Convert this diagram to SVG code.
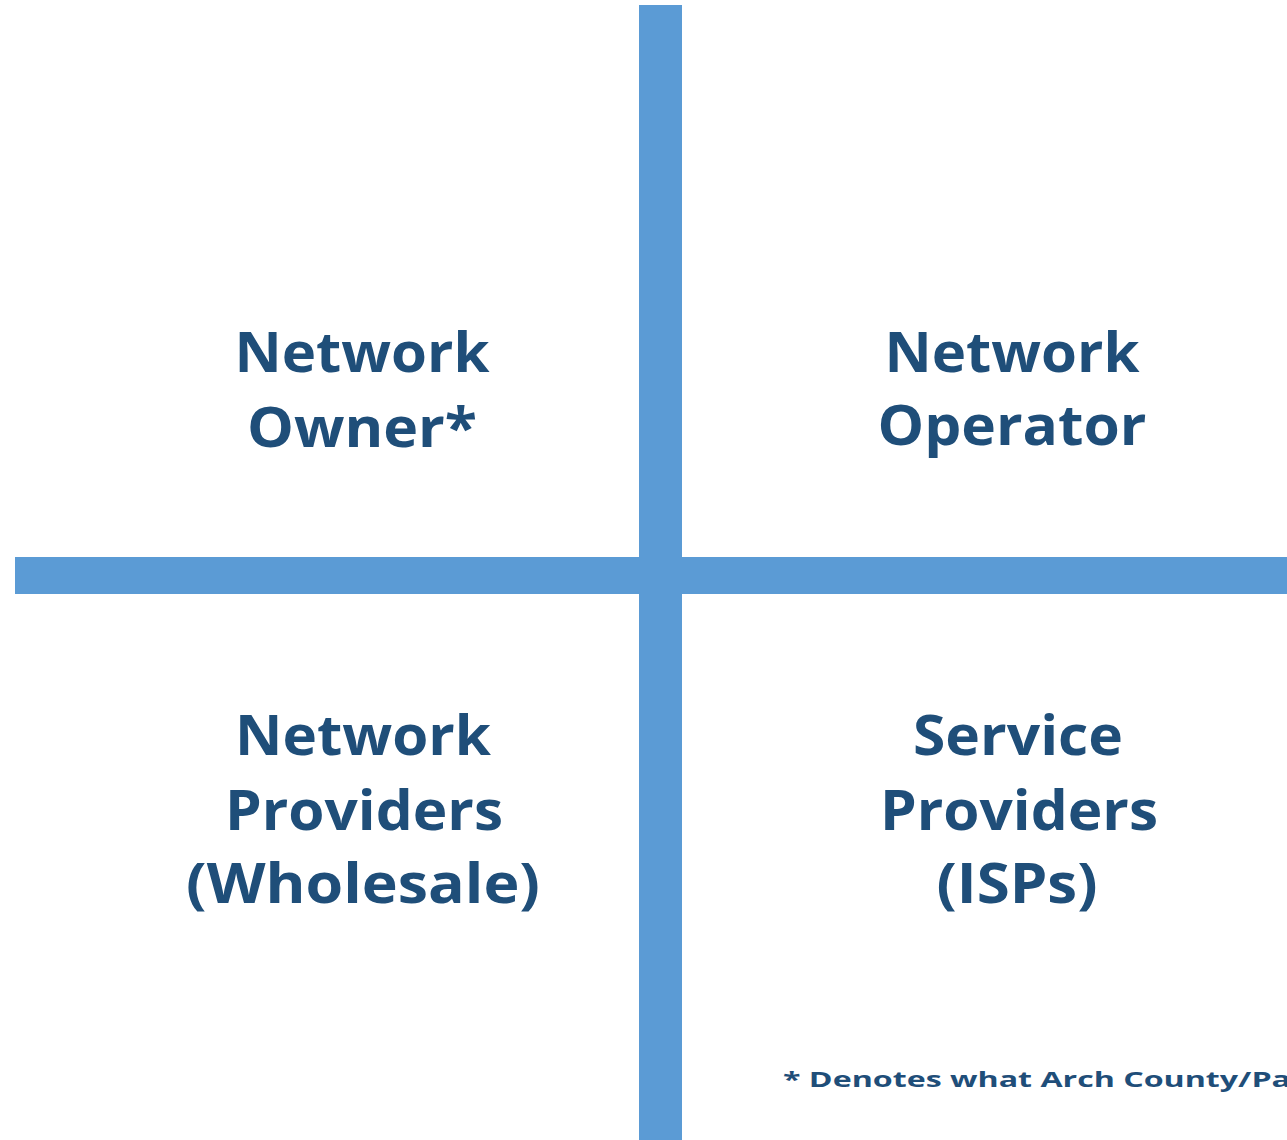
<svg xmlns="http://www.w3.org/2000/svg" width="1287" height="1140" viewBox="0 0 1287 1140">
<style>
.bar{fill:#5B9BD5}
.lbl{font-family:"Open Sans","Liberation Sans",sans-serif;font-weight:700;font-size:56px;fill:#1F4E79;text-anchor:middle}
.note{font-family:"Open Sans","Liberation Sans",sans-serif;font-weight:700;font-size:22px;fill:#1F4E79}
</style>
<rect width="1287" height="1140" fill="#FFFFFF"/>
<g id="connectors">
<rect class="bar" x="639" y="5" width="43" height="1135"/>
<rect class="bar" x="15" y="557" width="1272" height="37"/>
</g>
<g id="owner"><text class="lbl" x="362" y="372" textLength="255" lengthAdjust="spacingAndGlyphs">Network</text><text class="lbl" x="362" y="447" textLength="230" lengthAdjust="spacingAndGlyphs">Owner*</text></g>
<g id="operator"><text class="lbl" x="1012" y="372" textLength="255" lengthAdjust="spacingAndGlyphs">Network</text><text class="lbl" x="1012" y="445" textLength="269" lengthAdjust="spacingAndGlyphs">Operator</text></g>
<g id="wholesale"><text class="lbl" x="363" y="755" textLength="256" lengthAdjust="spacingAndGlyphs">Network</text><text class="lbl" x="364" y="830" textLength="278" lengthAdjust="spacingAndGlyphs">Providers</text><text class="lbl" x="363" y="903" textLength="354" lengthAdjust="spacingAndGlyphs">(Wholesale)</text></g>
<g id="isps"><text class="lbl" x="1018" y="755" textLength="210" lengthAdjust="spacingAndGlyphs">Service</text><text class="lbl" x="1019" y="830" textLength="278" lengthAdjust="spacingAndGlyphs">Providers</text><text class="lbl" x="1017" y="903" textLength="161" lengthAdjust="spacingAndGlyphs">(ISPs)</text></g>
<g id="footnote"><text class="note" x="783" y="1087" textLength="508" lengthAdjust="spacingAndGlyphs">* Denotes what Arch County/Pa</text></g>
</svg>
